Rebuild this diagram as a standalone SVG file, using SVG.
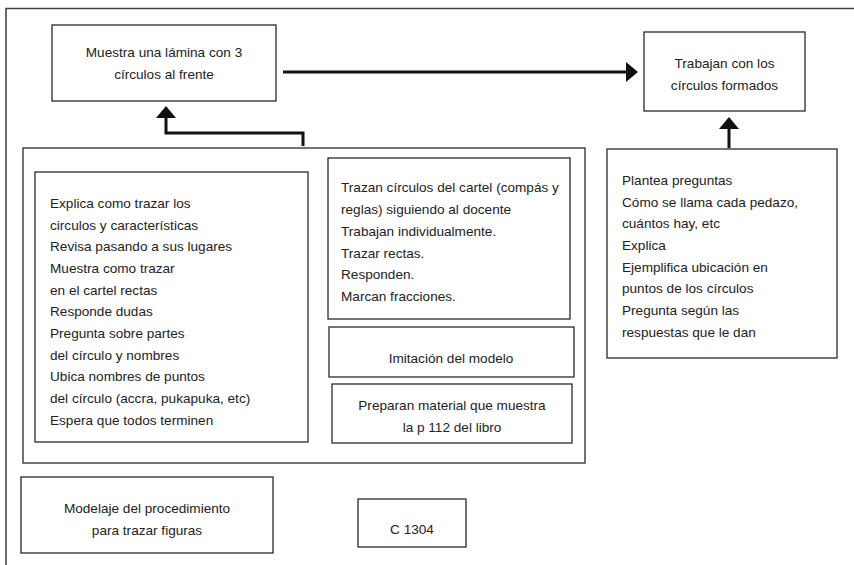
<svg xmlns="http://www.w3.org/2000/svg" width="854" height="565" viewBox="0 0 854 565">
<style>
.box{fill:#fff;stroke:#2a2a2a;stroke-width:1.3}
.frame{fill:none;stroke:#444;stroke-width:1.6}
.t{font-family:"Liberation Sans",Arial,sans-serif;font-size:13.6px;fill:#222}
.c{text-anchor:middle}
.conn{fill:none;stroke:#111;stroke-width:3}
</style>
<defs>
<marker id="ah" viewBox="0 0 12 20" refX="0" refY="10" markerWidth="12" markerHeight="20" markerUnits="userSpaceOnUse" orient="auto">
<path d="M0,0 L12,10 L0,20 z" fill="#111"/>
</marker>
</defs>
<rect width="854" height="565" fill="#fff"/>
<path class="frame" d="M6,565 V8.5 H854"/>
<g id="muestra">
<rect class="box" x="52" y="25" width="224" height="76"/>
<text class="t c" x="164" y="57">Muestra una lámina con 3</text>
<text class="t c" x="164" y="79">círculos al frente</text>
</g>
<g id="trabajan">
<rect class="box" x="644" y="32" width="161" height="79"/>
<text class="t c" x="724.5" y="68">Trabajan con los</text>
<text class="t c" x="724.5" y="90">círculos formados</text>
</g>
<g id="grupo">
<rect class="box" x="23" y="148" width="562" height="315"/>
</g>
<g id="explica">
<rect class="box" x="35" y="172" width="273" height="270"/>
<text class="t" x="50" y="208">Explica como trazar los</text>
<text class="t" x="50" y="230">circulos y características</text>
<text class="t" x="50" y="251">Revisa pasando a sus lugares</text>
<text class="t" x="50" y="273">Muestra como trazar</text>
<text class="t" x="50" y="295">en el cartel rectas</text>
<text class="t" x="50" y="316">Responde dudas</text>
<text class="t" x="50" y="338">Pregunta sobre partes</text>
<text class="t" x="50" y="360">del círculo y nombres</text>
<text class="t" x="50" y="381">Ubica nombres de puntos</text>
<text class="t" x="50" y="403">del círculo (accra, pukapuka, etc)</text>
<text class="t" x="50" y="425">Espera que todos terminen</text>
</g>
<g id="trazan">
<rect class="box" x="328" y="158" width="242" height="161"/>
<text class="t" x="341" y="192">Trazan círculos del cartel (compás y</text>
<text class="t" x="341" y="214">reglas) siguiendo al docente</text>
<text class="t" x="341" y="236">Trabajan individualmente.</text>
<text class="t" x="341" y="258">Trazar rectas.</text>
<text class="t" x="341" y="279">Responden.</text>
<text class="t" x="341" y="301">Marcan fracciones.</text>
</g>
<g id="imitacion">
<rect class="box" x="329" y="327" width="245" height="50"/>
<text class="t c" x="451" y="363">Imitación del modelo</text>
</g>
<g id="preparan">
<rect class="box" x="332" y="384" width="240" height="59"/>
<text class="t c" x="452" y="410">Preparan material que muestra</text>
<text class="t c" x="452" y="432">la p 112 del libro</text>
</g>
<g id="plantea">
<rect class="box" x="607" y="149" width="230" height="209"/>
<text class="t" x="622" y="185">Plantea preguntas</text>
<text class="t" x="622" y="207">Cómo se llama cada pedazo,</text>
<text class="t" x="622" y="228">cuántos hay, etc</text>
<text class="t" x="622" y="250">Explica</text>
<text class="t" x="622" y="272">Ejemplifica ubicación en</text>
<text class="t" x="622" y="293">puntos de los círculos</text>
<text class="t" x="622" y="315">Pregunta según las</text>
<text class="t" x="622" y="337">respuestas que le dan</text>
</g>
<g id="modelaje">
<rect class="box" x="21" y="477" width="252" height="76"/>
<text class="t c" x="147" y="513">Modelaje del procedimiento</text>
<text class="t c" x="147" y="535">para trazar figuras</text>
</g>
<g id="codigo">
<rect class="box" x="358" y="499" width="108" height="48"/>
<text class="t c" x="412" y="534">C 1304</text>
</g>
<g id="connectors">
<path class="conn" d="M283,72 H626" marker-end="url(#ah)"/>
<path class="conn" d="M303,146 V133 H166 V118" marker-end="url(#ah)"/>
<path class="conn" d="M729,148 V129" marker-end="url(#ah)"/>
</g>
</svg>
